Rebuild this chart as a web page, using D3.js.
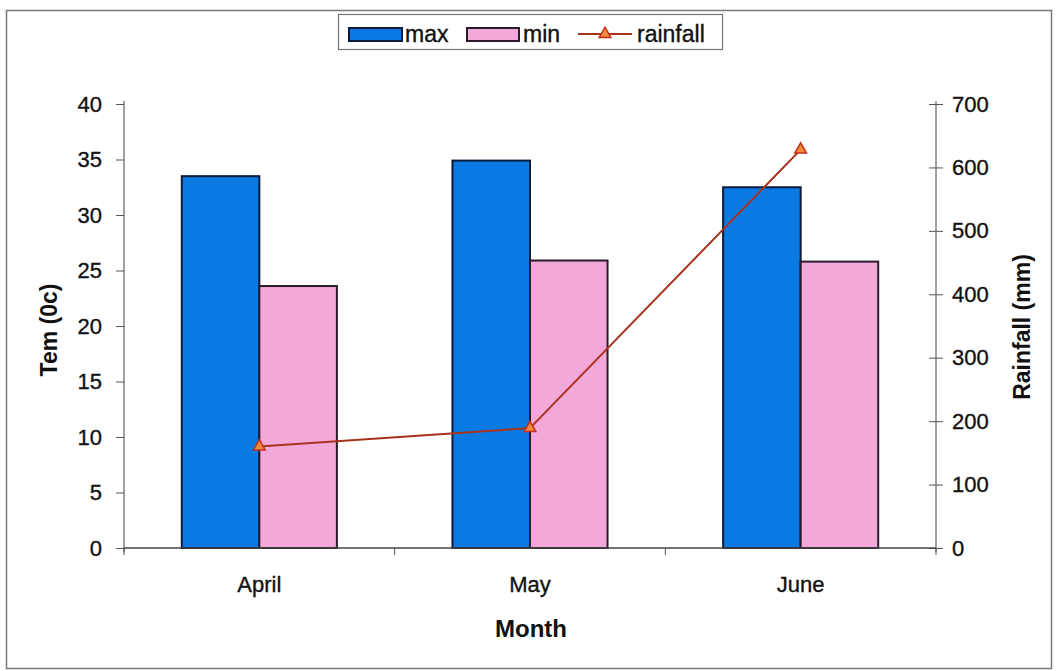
<!DOCTYPE html>
<html><head><meta charset="utf-8">
<script src="https://cdn.jsdelivr.net/npm/d3@7"></script>
<style>body{margin:0;background:#fff;font-family:"Liberation Sans",Arial,sans-serif;}</style>
</head><body>
<svg id="c" width="1058" height="671"></svg>
<script>
const months = ["April", "May", "June"];
const maxTemp = [33.5, 34.9, 32.5];
const minTemp = [23.6, 25.9, 25.8];
const rainfall = [160, 189, 628];
const tempTicks = [0,5,10,15,20,25,30,35,40];
const rainTicks = [0,100,200,300,400,500,600,700];

const svg = d3.select("#c");
const L = 124, R = 936, T = 104, B = 548;
const FONT = "Liberation Sans, Arial, sans-serif";

svg.append("rect").attr("x",6.5).attr("y",10.5).attr("width",1045).attr("height",658)
  .attr("fill","#fff").attr("stroke","#777").attr("stroke-width",1.5);

const x = d3.scaleBand().domain(months).range([L,R]).paddingInner(0.427).paddingOuter(0.2135);
const xb = d3.scaleBand().domain(["max","min"]).range([0,x.bandwidth()]);
const xc = d3.scalePoint().domain(months).range([L,R]).padding(0.5);
const yL = d3.scaleLinear().domain([0,40]).range([B,T]);
const yR = d3.scaleLinear().domain([0,700]).range([B,T]);

const g = svg.append("g");
months.forEach((m,i)=>{
  g.append("rect").attr("x",x(m)+xb("max")).attr("y",yL(maxTemp[i]))
    .attr("width",xb.bandwidth()).attr("height",B-yL(maxTemp[i]))
    .attr("fill","#0a7ae2").attr("stroke","#0a1a3a").attr("stroke-width",2);
  g.append("rect").attr("x",x(m)+xb("min")).attr("y",yL(minTemp[i]))
    .attr("width",xb.bandwidth()).attr("height",B-yL(minTemp[i]))
    .attr("fill","#f2a8d8").attr("stroke","#2a1a2a").attr("stroke-width",2);
});

function styleText(sel, size){
  sel.attr("font-size",size).attr("fill","#111").attr("font-family",FONT)
    .attr("stroke","#111").attr("stroke-width",0.35);
}

// axes
const axL = d3.axisLeft(yL).tickValues(tempTicks).tickSize(8).tickPadding(14);
const gL = svg.append("g").attr("transform",`translate(${L},0)`).call(axL);
gL.selectAll(".tick line").attr("stroke","#555");
gL.select(".domain").attr("stroke","#444").attr("d",`M0,${T-3}V${B+4}`);
styleText(gL.selectAll("text"), 22);

const axR = d3.axisRight(yR).tickValues(rainTicks).tickSize(0).tickPadding(16);
const gR = svg.append("g").attr("transform",`translate(${R},0)`).call(axR);
gR.select(".domain").attr("stroke","#444").attr("d",`M0,${T-3}V${B+4}`);
gR.selectAll(".tick").append("line").attr("x1",-7).attr("x2",7).attr("stroke","#555");
styleText(gR.selectAll("text"), 22);

// x axis baseline with category ticks
const gX = svg.append("g").attr("transform",`translate(0,${B})`);
gX.append("line").attr("x1",L).attr("x2",R).attr("stroke","#444").attr("stroke-width",1.5);
const bounds = [L, ...months.slice(1).map(m=>x(m)-x.step()*x.paddingInner()/2), R];
bounds.forEach(b=>{
  gX.append("line").attr("x1",b).attr("x2",b).attr("y1",0).attr("y2",7).attr("stroke","#555");
});
months.forEach(m=>{
  const t = gX.append("text").attr("x",xc(m)).attr("y",44).attr("text-anchor","middle").text(m);
  styleText(t, 22);
});

// rainfall line
const line = d3.line().x((d,i)=>xc(months[i])).y(d=>yR(d));
svg.append("path").datum(rainfall).attr("d",line).attr("fill","none")
  .attr("stroke","#a8321c").attr("stroke-width",2);
const tri = d3.symbol().type(d3.symbolTriangle).size(60);
svg.selectAll(".pt").data(rainfall).join("path")
  .attr("transform",(d,i)=>`translate(${xc(months[i])},${yR(d)})`)
  .attr("d",tri).attr("fill","#f08a3a").attr("stroke","#c0301a").attr("stroke-width",1.5);

// axis titles
svg.append("text").attr("x",531).attr("y",637).attr("text-anchor","middle")
  .attr("font-size",24).attr("font-weight","bold").attr("fill","#111").attr("font-family",FONT).text("Month");
svg.append("text").attr("transform","translate(57,330) rotate(-90)").attr("text-anchor","middle")
  .attr("font-size",23).attr("font-weight","bold").attr("fill","#111").attr("font-family",FONT).text("Tem (0c)");
svg.append("text").attr("transform","translate(1030,327) rotate(-90)").attr("text-anchor","middle")
  .attr("font-size",23).attr("font-weight","bold").attr("fill","#111").attr("font-family",FONT).text("Rainfall (mm)");

// legend
const lg = svg.append("g");
lg.append("rect").attr("x",338.5).attr("y",14.5).attr("width",384).attr("height",35)
  .attr("fill","#fff").attr("stroke","#777").attr("stroke-width",1.2);
lg.append("rect").attr("x",349).attr("y",28).attr("width",53).attr("height",13)
  .attr("fill","#0a7ae2").attr("stroke","#0a1a3a").attr("stroke-width",2);
styleText(lg.append("text").attr("x",405).attr("y",42).text("max"), 23);
lg.append("rect").attr("x",467).attr("y",28).attr("width",52).attr("height",13)
  .attr("fill","#f2a8d8").attr("stroke","#2a1a2a").attr("stroke-width",2);
styleText(lg.append("text").attr("x",523).attr("y",42).text("min"), 23);
lg.append("line").attr("x1",578).attr("x2",632).attr("y1",34).attr("y2",34)
  .attr("stroke","#a8321c").attr("stroke-width",2);
lg.append("path").attr("transform","translate(605,34)").attr("d",tri)
  .attr("fill","#f08a3a").attr("stroke","#c0301a").attr("stroke-width",1.5);
styleText(lg.append("text").attr("x",637).attr("y",42).text("rainfall"), 23);
</script>
</body></html>
